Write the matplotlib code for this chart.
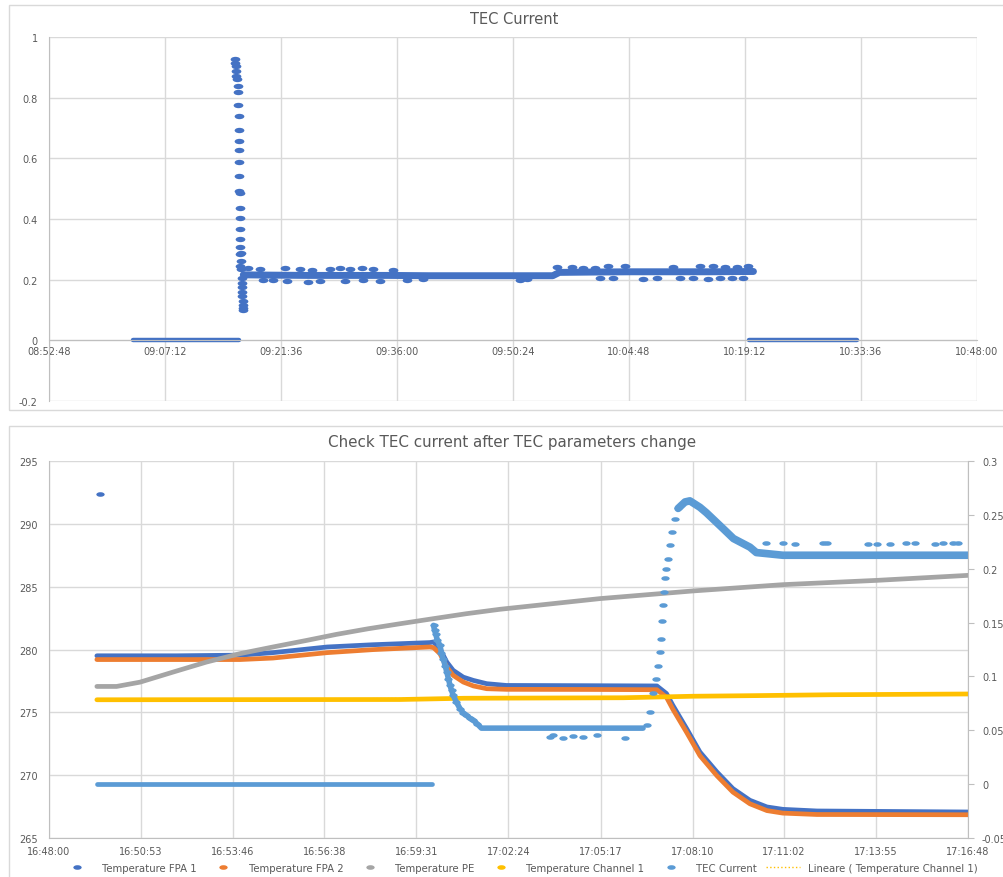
import numpy as np
import pandas as pd
import matplotlib
matplotlib.use("Agg")
import matplotlib.pyplot as plt
from matplotlib.path import Path
from matplotlib.patches import Rectangle
from matplotlib.lines import Line2D

# ---------------- datos: grafico superior (TEC Current) ----------------
top_ticks = ["08:52:48", "09:07:12", "09:21:36", "09:36:00", "09:50:24",
             "10:04:48", "10:19:12", "10:33:36", "10:48:00"]
top_yticks = [-0.2, 0, 0.2, 0.4, 0.6, 0.8, 1]
top_ylabels = ["-0.2", "0", "0.2", "0.4", "0.6", "0.8", "1"]

top_zero1_t = ["09:03:14", "09:07:00", "09:11:00", "09:14:00", "09:16:22"]
top_zero1_v = [0, 0, 0, 0, 0]

top_spike_t = ["09:15:53", "09:15:55", "09:15:58", "09:16:01", "09:16:04", "09:16:08",
               "09:16:12", "09:16:16", "09:16:18", "09:16:20", "09:16:22", "09:16:22",
               "09:16:23", "09:16:23", "09:16:25", "09:16:26", "09:16:27", "09:16:27",
               "09:16:28", "09:16:28", "09:16:29", "09:16:29", "09:16:30", "09:16:31"]
top_spike_v = [0.929, 0.915, 0.904, 0.888, 0.871, 0.860, 0.838, 0.818, 0.776, 0.740,
               0.693, 0.657, 0.627, 0.588, 0.541, 0.492, 0.485, 0.437, 0.404, 0.366,
               0.333, 0.309, 0.286, 0.245]

top_settle_t = ["09:16:36", "09:16:38", "09:16:40", "09:16:42", "09:16:44", "09:16:46",
                "09:16:47", "09:16:49", "09:16:50", "09:16:52", "09:16:54", "09:16:55"]
top_settle_v = [0.287, 0.262, 0.235, 0.205, 0.19, 0.175, 0.16, 0.145, 0.13, 0.115, 0.105, 0.1]

top_band_t = ["09:16:55", "09:20:00", "09:25:00", "09:30:00", "09:35:00", "09:40:00",
              "09:45:00", "09:50:00", "09:55:20", "09:56:10", "10:00:00", "10:05:00",
              "10:10:00", "10:15:00", "10:20:15"]
top_band_v = [0.216, 0.215, 0.214, 0.214, 0.214, 0.213, 0.213, 0.213, 0.213, 0.224,
              0.225, 0.226, 0.226, 0.226, 0.227]

top_noise_t = ["09:17:32", "09:18:59", "09:22:06", "09:23:57", "09:25:24", "09:27:41",
               "09:28:55", "09:30:10", "09:31:37", "09:33:04", "09:35:32",
               "09:19:24", "09:20:39", "09:22:18", "09:24:59", "09:26:26", "09:29:33",
               "09:31:49", "09:33:53", "09:37:12", "09:39:16",
               "09:51:16", "09:52:06",
               "09:55:49", "09:57:41", "09:59:08", "10:00:35", "10:02:14", "10:04:18",
               "10:10:18", "10:13:37", "10:15:16", "10:16:43", "10:18:10", "10:19:36",
               "10:01:12", "10:02:51", "10:06:34", "10:08:14", "10:11:08", "10:12:47",
               "10:14:39", "10:16:06", "10:17:33", "10:18:59"]
top_noise_v = [0.238, 0.235, 0.237, 0.236, 0.233, 0.236, 0.238, 0.234, 0.237, 0.235, 0.232,
               0.198, 0.200, 0.195, 0.193, 0.197, 0.196, 0.200, 0.194, 0.198, 0.202,
               0.198, 0.203,
               0.243, 0.242, 0.240, 0.238, 0.246, 0.245, 0.243, 0.245, 0.244, 0.242,
               0.243, 0.245,
               0.206, 0.204, 0.203, 0.205, 0.204, 0.207, 0.203, 0.205, 0.204, 0.206]

top_zero2_t = ["10:19:44", "10:23:00", "10:27:00", "10:30:00", "10:33:04"]
top_zero2_v = [0, 0, 0, 0, 0]

# ---------------- datos: grafico inferior ----------------
bot_ticks = ["16:48:00", "16:50:53", "16:53:46", "16:56:38", "16:59:31", "17:02:24",
             "17:05:17", "17:08:10", "17:11:02", "17:13:55", "17:16:48"]
left_ticks = [265, 270, 275, 280, 285, 290, 295]
right_ticks = [-0.05, 0, 0.05, 0.1, 0.15, 0.2, 0.25, 0.3]
right_labels = ["-0.05", "0", "0.05", "0.1", "0.15", "0.2", "0.25", "0.3"]

fpa1_t = ["16:49:30", "16:52:00", "16:53:59", "16:55:01", "16:56:43", "16:58:09",
          "16:59:56", "17:00:03", "17:00:15", "17:00:28", "17:00:40", "17:00:59",
          "17:01:18", "17:01:43", "17:02:20", "17:05:00", "17:07:03", "17:07:21",
          "17:07:33", "17:07:59", "17:08:24", "17:08:56", "17:09:26", "17:09:58",
          "17:10:30", "17:11:00", "17:12:04", "17:16:48"]
fpa1_v = [279.5, 279.5, 279.55, 279.75, 280.2, 280.38, 280.55, 280.6, 280.07, 279.0,
          278.34, 277.8, 277.54, 277.28, 277.14, 277.12, 277.1, 276.5, 275.56, 273.7,
          271.84, 270.25, 268.93, 268.0, 267.47, 267.28, 267.15, 267.07]
fpa1_out_t = ["16:49:36"]
fpa1_out_v = [292.4]

fpa2_t = ["16:49:30", "16:52:00", "16:53:59", "16:55:01", "16:56:43", "16:58:09",
          "16:59:56", "17:00:03", "17:00:15", "17:00:28", "17:00:40", "17:00:59",
          "17:01:18", "17:01:43", "17:02:20", "17:05:00", "17:07:03", "17:07:21",
          "17:07:33", "17:07:59", "17:08:24", "17:08:56", "17:09:26", "17:09:58",
          "17:10:30", "17:11:00", "17:12:04", "17:16:48"]
fpa2_v = [279.2, 279.2, 279.2, 279.32, 279.75, 279.99, 280.2, 280.15, 279.67, 278.6,
          277.94, 277.41, 277.1, 276.88, 276.83, 276.82, 276.8, 276.2, 275.25, 273.4,
          271.55, 269.95, 268.65, 267.72, 267.18, 266.98, 266.87, 266.85]

pe_t = ["16:49:30", "16:50:07", "16:50:51", "16:51:53", "16:52:56", "16:53:59",
        "16:55:01", "16:56:04", "16:57:00", "16:58:00", "16:59:00", "17:00:02",
        "17:01:05", "17:02:08", "17:05:16", "17:08:11", "17:11:00", "17:13:56", "17:16:48"]
pe_v = [277.06, 277.06, 277.4, 278.2, 279.0, 279.67, 280.2, 280.72, 281.2, 281.65,
        282.05, 282.45, 282.85, 283.2, 284.05, 284.66, 285.16, 285.5, 285.9]

ch1_t = ["16:49:30", "16:59:00", "17:01:00", "17:06:00", "17:08:10", "17:10:10",
         "17:12:30", "17:16:48"]
ch1_v = [276.0, 276.02, 276.12, 276.16, 276.28, 276.33, 276.4, 276.46]

tec_zero_t = ["16:49:30", "16:52:00", "16:55:00", "16:58:00", "17:00:00"]
tec_zero_v = [0.0, 0.0, 0.0, 0.0, 0.0]

tec_drop_t = ["17:00:03", "17:00:05", "17:00:07", "17:00:10", "17:00:15", "17:00:18",
              "17:00:21", "17:00:25", "17:00:28", "17:00:31", "17:00:34", "17:00:37",
              "17:00:40", "17:00:46", "17:00:53", "17:00:59", "17:01:05", "17:01:12",
              "17:01:18", "17:01:25", "17:01:33", "17:03:00", "17:05:00", "17:06:37"]
tec_drop_v = [0.1474, 0.143, 0.1397, 0.134, 0.1288, 0.122, 0.1165, 0.11, 0.104, 0.098,
              0.0917, 0.087, 0.0824, 0.0762, 0.07, 0.066, 0.0638, 0.061, 0.0592, 0.056,
              0.052, 0.052, 0.052, 0.052]

tec_low_t = ["17:03:42", "17:03:48", "17:04:07", "17:04:26", "17:04:44", "17:05:10", "17:06:03"]
tec_low_v = [0.044, 0.046, 0.043, 0.045, 0.044, 0.046, 0.043]

tec_rise_t = ["17:06:44", "17:06:50", "17:06:56", "17:07:02", "17:07:06", "17:07:09",
              "17:07:10", "17:07:12", "17:07:15", "17:07:16", "17:07:19", "17:07:21",
              "17:07:24", "17:07:27", "17:07:31", "17:07:37", "17:07:43"]
tec_rise_v = [0.0545, 0.067, 0.085, 0.098, 0.110, 0.123, 0.135, 0.151, 0.166, 0.178,
              0.191, 0.200, 0.209, 0.222, 0.234, 0.246, 0.256]

tec_decay_t = ["17:07:43", "17:07:56", "17:08:05", "17:08:24", "17:08:36", "17:09:08",
               "17:09:27", "17:09:58", "17:10:10", "17:11:00", "17:16:48"]
tec_decay_v = [0.256, 0.262, 0.263, 0.257, 0.252, 0.237, 0.228, 0.220, 0.215, 0.2125, 0.2125]

tec_high_t = ["17:10:29", "17:11:00", "17:11:22", "17:12:16", "17:12:22", "17:13:40",
              "17:13:56", "17:14:21", "17:14:52", "17:15:08", "17:15:46", "17:16:01",
              "17:16:20", "17:16:29"]
tec_high_v = [0.224, 0.224, 0.223, 0.224, 0.224, 0.223, 0.223, 0.223, 0.224, 0.224,
              0.223, 0.224, 0.224, 0.224]

# ---------------- estilo ----------------
BLUE = "#4472C4"
ORANGE = "#ED7D31"
GRAY = "#A5A5A5"
YELLOW = "#FFC000"
LBLUE = "#5B9BD5"
GRID = "#D9D9D9"
AXIS = "#BFBFBF"
TXT = "#595959"

plt.rcParams["font.family"] = ["DejaVu Sans"]

circ = Path.unit_circle()
dot = Path(circ.vertices * [1.0, 0.55], circ.codes)  # puntos achatados como en la captura


def tt(lista):
    return pd.to_datetime(["2024-01-01 " + s for s in lista])


def band(ax, t, v, c, lw):
    ax.plot(tt(t), v, color=c, lw=lw, solid_capstyle="round", solid_joinstyle="round")


def dots(ax, t, v, c, ms):
    ax.plot(tt(t), v, ls="none", marker=dot, ms=ms, color=c, mec=c, mew=0)


W, H = 1004, 878
fig = plt.figure(figsize=(W / 100, H / 100), dpi=100)

# marcos de los dos graficos
fig.patches.append(Rectangle((9 / W, 1 - 411 / H), 1.2, (411 - 6) / H, transform=fig.transFigure,
                             fill=False, ec=GRID, lw=1))
fig.patches.append(Rectangle((9 / W, -0.2), 1.2, 0.2 + 1 - 427 / H, transform=fig.transFigure,
                             fill=False, ec=GRID, lw=1))

# ---------------- grafico superior ----------------
ax1 = fig.add_axes([49 / W, 1 - 402 / H, (977 - 49) / W, (402 - 38) / H])
band(ax1, top_zero1_t, top_zero1_v, BLUE, 3.2)
band(ax1, top_zero2_t, top_zero2_v, BLUE, 3.2)
band(ax1, top_band_t, top_band_v, BLUE, 5)
dots(ax1, top_spike_t, top_spike_v, BLUE, 7)
dots(ax1, top_settle_t, top_settle_v, BLUE, 7)
dots(ax1, top_noise_t, top_noise_v, BLUE, 7)

ax1.set_xlim(tt(["08:52:48"])[0], tt(["10:48:00"])[0])
ax1.set_ylim(-0.2, 1)
ax1.set_xticks(tt(top_ticks))
ax1.set_xticklabels(top_ticks)
ax1.set_yticks(top_yticks)
ax1.set_yticklabels(top_ylabels)
ax1.grid(True, color=GRID, lw=1)
ax1.set_axisbelow(True)
for s in ["top", "right"]:
    ax1.spines[s].set_visible(False)
ax1.spines["left"].set_color(AXIS)
ax1.spines["bottom"].set_color(AXIS)
ax1.spines["bottom"].set_position(("data", 0))
ax1.tick_params(axis="both", length=0, labelsize=7, labelcolor=TXT)
ax1.tick_params(axis="y", pad=8)
ax1.tick_params(axis="x", pad=4)
fig.text(514 / W, 1 - 20 / H, "TEC Current", ha="center", va="center", fontsize=10.5, color=TXT)

# ---------------- grafico inferior ----------------
ax2 = fig.add_axes([49 / W, 1 - 839 / H, (968 - 49) / W, (839 - 462) / H])
axr = ax2.twinx()

band(ax2, fpa1_t, fpa1_v, BLUE, 3.4)
dots(ax2, fpa1_out_t, fpa1_out_v, BLUE, 6)
band(ax2, fpa2_t, fpa2_v, ORANGE, 3.4)
band(ax2, pe_t, pe_v, GRAY, 3.4)
band(ax2, ch1_t, ch1_v, YELLOW, 3.4)

# linea de tendencia lineal del canal 1
sec = (tt(ch1_t) - tt(["16:48:00"])[0]).total_seconds().to_numpy()
k, b = np.polyfit(sec, ch1_v, 1)
ax2.plot(tt([ch1_t[0], ch1_t[-1]]), [k * sec[0] + b, k * sec[-1] + b], ls=":", color=YELLOW, lw=1)

band(axr, tec_zero_t, tec_zero_v, LBLUE, 3.4)
band(axr, tec_drop_t, tec_drop_v, LBLUE, 4)
dots(axr, tec_drop_t[:20], tec_drop_v[:20], LBLUE, 6)
dots(axr, tec_low_t, tec_low_v, LBLUE, 6)
dots(axr, tec_rise_t, tec_rise_v, LBLUE, 6)
band(axr, tec_decay_t, tec_decay_v, LBLUE, 5.5)
dots(axr, tec_high_t, tec_high_v, LBLUE, 6)

ax2.set_xlim(tt(["16:48:00"])[0], tt(["17:16:48"])[0])
ax2.set_ylim(265, 295)
axr.set_ylim(-0.05, 0.3)
ax2.set_xticks(tt(bot_ticks))
ax2.set_xticklabels(bot_ticks)
ax2.set_yticks(left_ticks)
axr.set_yticks(right_ticks)
axr.set_yticklabels(right_labels)
ax2.grid(True, color=GRID, lw=1)
ax2.set_axisbelow(True)
for s in ["top", "right"]:
    ax2.spines[s].set_visible(False)
for s in ["top", "left", "bottom"]:
    axr.spines[s].set_visible(False)
ax2.spines["left"].set_color(AXIS)
ax2.spines["bottom"].set_color(AXIS)
axr.spines["right"].set_color(AXIS)
ax2.tick_params(axis="both", length=0, labelsize=7, labelcolor=TXT)
ax2.tick_params(axis="y", pad=8)
ax2.tick_params(axis="x", pad=6)
axr.tick_params(axis="y", length=4, color=AXIS, labelsize=7, labelcolor=TXT, pad=6)

fig.text(512 / W, 1 - 443 / H, "Check TEC current after TEC parameters change",
         ha="center", va="center", fontsize=10.9, color=TXT)

# leyenda
handles = [Line2D([], [], ls="none", marker=dot, ms=6, color=c, mew=0)
           for c in [BLUE, ORANGE, GRAY, YELLOW, LBLUE]]
handles.append(Line2D([], [], ls=":", color=YELLOW, lw=1))
labels = ["Temperature FPA 1", "Temperature FPA 2", "Temperature PE",
          "Temperature Channel 1", "TEC Current", "Lineare ( Temperature Channel 1)"]
fig.legend(handles, labels, loc="center", bbox_to_anchor=(519 / W, 1 - 869 / H), ncol=6,
           frameon=False, fontsize=7.3, labelcolor=TXT, handlelength=3.4,
           handletextpad=0.8, columnspacing=0.9)

fig.savefig("out.png", dpi=100)
